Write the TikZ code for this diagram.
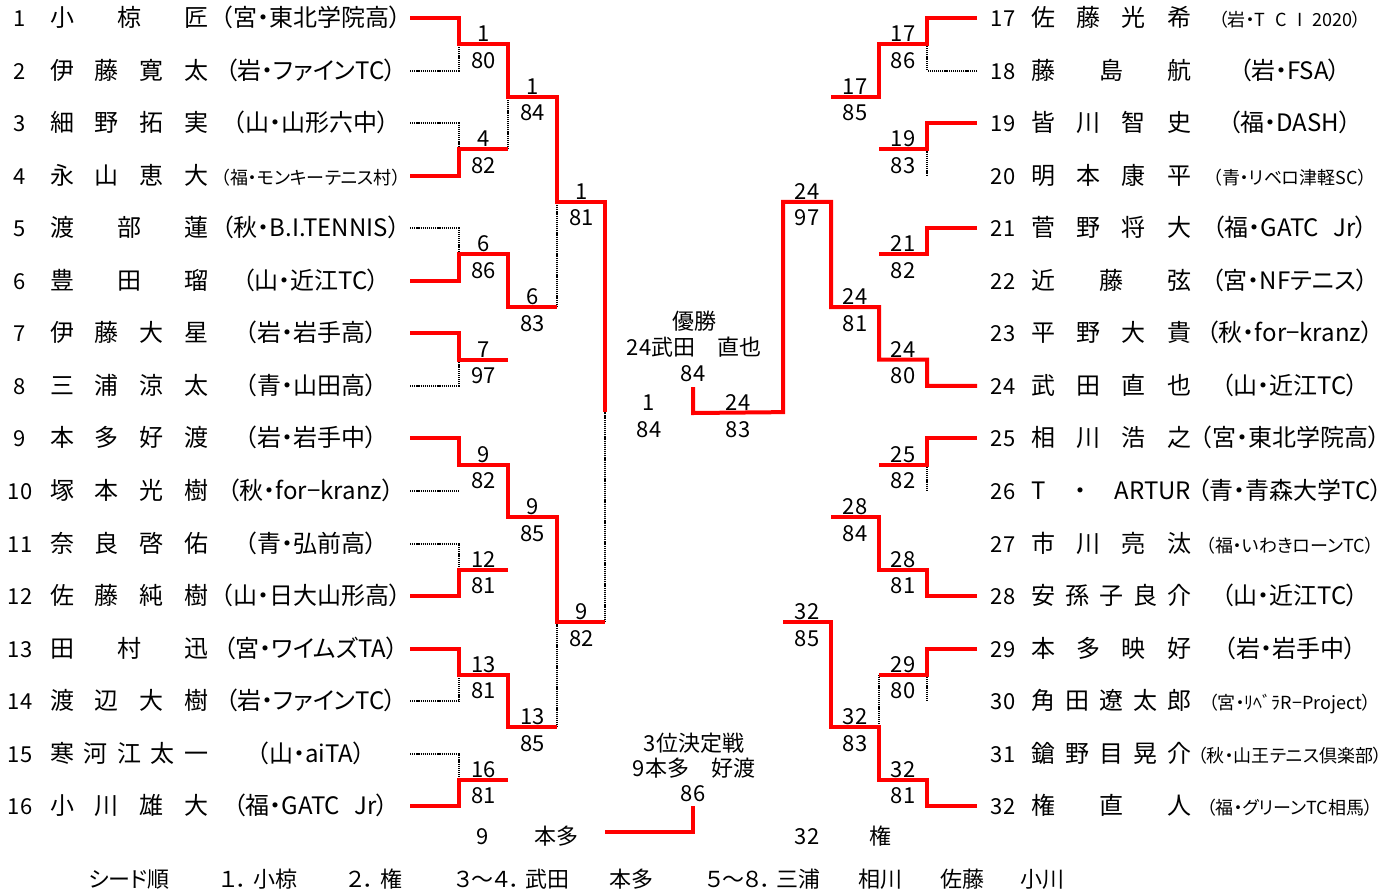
\documentclass[tikz,border=0pt]{standalone}
\usepackage{fontspec}
\setmainfont{Noto Sans CJK JP}[RawFeature=+palt]
\newcommand\AffN{\fontsize{24}{28}\selectfont}
\newcommand\AffS{\fontsize{18}{22}\selectfont}

\begin{document}
\begin{tikzpicture}[
    x=1pt, y=-1pt,
    WinLine/.style={draw=red, line width=4pt},
    LoseLine/.style={draw=black, line width=2pt, dash pattern=on 1.2pt off 0.9pt},
    RowNum/.style={anchor=base, inner sep=0pt, font=\fontsize{22}{26}\selectfont},
    PlayerName/.style={anchor=base west, inner sep=0pt, font=\fontsize{24}{28}\selectfont},
    ClubName/.style={anchor=base, inner sep=0pt},
    Score/.style={anchor=base, inner sep=0pt, font=\fontsize{22}{26}\selectfont},
  ]
  \fill[white] (0,0) rectangle (1396,892);
  \useasboundingbox (0,0) rectangle (1396,892);

  % left half
  \foreach \i/\nm/\af/\sz in {
      1/小 椋 匠/（宮・東北学院高）/\AffN,
      2/伊 藤 寛 太/（岩・ファインTC）/\AffN,
      3/細 野 拓 実/（山・山形六中）/\AffN,
      4/永 山 恵 大/（福・モンキーテニス村）/\AffS,
      5/渡 部 蓮/（秋・B.I.TENNIS）/\AffN,
      6/豊 田 瑠/（山・近江TC）/\AffN,
      7/伊 藤 大 星/（岩・岩手高）/\AffN,
      8/三 浦 涼 太/（青・山田高）/\AffN,
      9/本 多 好 渡/（岩・岩手中）/\AffN,
      10/塚 本 光 樹/（秋・for−kranz）/\AffN,
      11/奈 良 啓 佑/（青・弘前高）/\AffN,
      12/佐 藤 純 樹/（山・日大山形高）/\AffN,
      13/田 村 迅/（宮・ワイムズTA）/\AffN,
      14/渡 辺 大 樹/（岩・ファインTC）/\AffN,
      15/寒 河 江 太 一/（山・aiTA）/\AffN,
      16/小 川 雄 大/（福・GATC\hspace{14pt}Jr）/\AffN
    }{
    \pgfmathsetmacro\yy{18+(\i-1)*52.55}
    \coordinate (r\i) at (410,\yy);
    \node[RowNum] (n\i) at (20,{\yy+8.5}) {\i};
    \node[PlayerName] (nm\i) at (50,{\yy+8.5}) {\makebox[158pt][s]{\nm}};
    \node[ClubName, font=\sz] (af\i) at (311,{\yy+8.5}) {\af};
  }

  % right half
  \foreach \i/\nm/\af/\sz in {
      17/佐 藤 光 希/（岩・T\hspace{10pt}C\hspace{10pt}I\hspace{10pt}2020）/\AffS,
      18/藤 島 航/（岩・FSA）/\AffN,
      19/皆 川 智 史/（福・DASH）/\AffN,
      20/明 本 康 平/（青・リベロ津軽SC）/\AffS,
      21/菅 野 将 大/（福・GATC\hspace{14pt}Jr）/\AffN,
      22/近 藤 弦/（宮・NFテニス）/\AffN,
      23/平 野 大 貴/（秋・for−kranz）/\AffN,
      24/武 田 直 也/（山・近江TC）/\AffN,
      25/相 川 浩 之/（宮・東北学院高）/\AffN,
      26/T ・ ARTUR/（青・青森大学TC）/\AffN,
      27/市 川 亮 汰/（福・いわきローンTC）/\AffS,
      28/安 孫 子 良 介/（山・近江TC）/\AffN,
      29/本 多 映 好/（岩・岩手中）/\AffN,
      30/角 田 遼 太 郎/（宮・ﾘﾍﾞﾗR−Project）/\AffS,
      31/鎗 野 目 晃 介/（秋・山王テニス倶楽部）/\AffS,
      32/権 直 人/（福・グリーンTC相馬）/\AffS
    }{
    \pgfmathsetmacro\yy{18+(\i-17)*52.55}
    \coordinate (r\i) at (977,\yy);
    \node[RowNum] (n\i) at (1003,{\yy+8.5}) {\i};
    \node[PlayerName] (nm\i) at (1031,{\yy+8.5}) {\makebox[160pt][s]{\nm}};
    \node[ClubName, font=\sz] (af\i) at (1290,{\yy+8.5}) {\af};
  }

  % match points
  \foreach \k/\xa/\xb/\nb in {1/459/927/8, 2/508/879/4, 3/557/831/2, 4/605/783/1}{
    \foreach \j in {1,...,\nb}{
      \pgfmathsetmacro\yy{18+((\j-1)*2^\k+(2^\k-1)/2)*52.55}
      \coordinate (L\k-\j) at (\xa,\yy);
      \coordinate (R\k-\j) at (\xb,\yy);
    }
  }
  \coordinate (F1) at (693,413);
  \coordinate (F2) at (693,387);
  \coordinate (T1) at (605,832);
  \coordinate (T2) at (693,832);
  \coordinate (T3) at (693,806);

  % lost lines
  \draw[LoseLine] (r2) -| (L1-1);
  \draw[LoseLine] (r3) -| (L1-2);
  \draw[LoseLine] (r5) -| (L1-3);
  \draw[LoseLine] (r8) -| (L1-4);
  \draw[LoseLine] (r10) -- (r10 -| L1-5);
  \draw[LoseLine] (r11) -| (L1-6);
  \draw[LoseLine] (r14) -| (L1-7);
  \draw[LoseLine] (r15) -| (L1-8);
  \draw[LoseLine] (L1-2 -| L2-1) -- (L2-1);
  \draw[LoseLine] (L2-2 -| L3-1) -- (L3-1);
  \draw[LoseLine] (L2-4 -| L3-2) -- (L3-2);
  \draw[LoseLine] (L3-2 -| L4-1) -- (L4-1);
  \draw[LoseLine] (r18) -| (R1-1);
  \draw[LoseLine] (R1-2) -- (R1-2 |- r20);
  \draw[LoseLine] (R1-5) -- (R1-5 |- r26);
  \draw[LoseLine] (R1-7) -- (R1-7 |- r30);
  \draw[LoseLine] (R1-7 -| R2-4) -- (R2-4);

  % winners
  \draw[WinLine] (r1) -| (L1-1) -| (L2-1) -| (L3-1) -| (L4-1);
  \draw[WinLine] (r4) -| (L1-2) -- (L1-2 -| L2-1);
  \draw[WinLine] (r6) -| (L1-3) -| (L2-2) -- (L2-2 -| L3-1);
  \draw[WinLine] (r7) -| (L1-4) -- (L1-4 -| L2-2);
  \draw[WinLine] (r9) -| (L1-5) -| (L2-3) -| (L3-2) -- (L3-2 -| L4-1);
  \draw[WinLine] (r12) -| (L1-6) -- (L1-6 -| L2-3);
  \draw[WinLine] (r13) -| (L1-7) -| (L2-4) -- (L2-4 -| L3-2);
  \draw[WinLine] (r16) -| (L1-8) -- (L1-8 -| L2-4);
  \draw[WinLine] (r17) -| (R1-1) -| (R2-1) -- (R2-1 -| R3-1);
  \draw[WinLine] (r19) -| (R1-2) -- (R1-2 -| R2-1);
  \draw[WinLine] (r21) -| (R1-3) -- (R1-3 -| R2-2);
  \draw[WinLine] (r24) -| (R1-4) -| (R2-2) -| (R3-1) -| (R4-1) -- (F1) -- (F2);
  \draw[WinLine] (r25) -| (R1-5) -- (R1-5 -| R2-3);
  \draw[WinLine] (r28) -| (R1-6) -| (R2-3) -- (R2-3 -| R3-2);
  \draw[WinLine] (r29) -| (R1-7) -- (R1-7 -| R2-4);
  \draw[WinLine] (r32) -| (R1-8) -| (R2-4) -| (R3-2) -- (R3-2 -| R4-1);
  \draw[WinLine] (T1) -- (T2) -- (T3);

  % scores
  \foreach \c/\t/\b in {L1-1/1/80, L1-2/4/82, L1-3/6/86, L1-4/7/97,
      L1-5/9/82, L1-6/12/81, L1-7/13/81, L1-8/16/81,
      L2-1/1/84, L2-2/6/83, L2-3/9/85, L2-4/13/85, L3-1/1/81, L3-2/9/82}{
    \node[Score, xshift=24.5pt, yshift=2.5pt] (t\c) at (\c) {\t};
    \node[Score, xshift=24.5pt, yshift=-24pt] (b\c) at (\c) {\b};
  }
  \foreach \c/\t/\b in {R1-1/17/86, R1-2/19/83, R1-3/21/82, R1-4/24/80,
      R1-5/25/82, R1-6/28/81, R1-7/29/80, R1-8/32/81,
      R2-1/17/85, R2-2/24/81, R2-3/28/84, R2-4/32/83, R3-1/24/97, R3-2/32/85}{
    \node[Score, xshift=-24pt, yshift=2.5pt] (t\c) at (\c) {\t};
    \node[Score, xshift=-24pt, yshift=-24pt] (b\c) at (\c) {\b};
  }
  \node[Score] (fin1t) at (649,410.5) {1};
  \node[Score] (fin1b) at (649,437) {84};
  \node[Score] (fin2t) at (738,410.5) {24};
  \node[Score] (fin2b) at (738,437) {83};

  % final and third place
  \node[Score] (champ) at (694,329) {優勝};
  \node[Score] (champnm) at (694,355) {24武田　直也};
  \node[Score] (champsc) at (693,381) {84};
  \node[Score] (third) at (694,751) {3位決定戦};
  \node[Score] (thirdnm) at (694,776) {9本多　好渡};
  \node[Score] (thirdsc) at (693,801) {86};
  \node[Score] (th1n) at (483,844) {9};
  \node[Score] (th1m) at (556,844) {本多};
  \node[Score] (th2n) at (807,844) {32};
  \node[Score] (th2m) at (880,844) {権};

  % seeds
  \foreach \x/\s [count=\k] in {129/シード順, 259/１．\hspace{6pt}小椋, 375/２．\hspace{6pt}権,
      512/３～４．\hspace{4pt}武田, 631/本多, 763/５～８．\hspace{4pt}三浦, 880/相川, 962/佐藤, 1042/小川}{
    \node[Score] (seed\k) at (\x,887) {\s};
  }
\end{tikzpicture}
\end{document}
